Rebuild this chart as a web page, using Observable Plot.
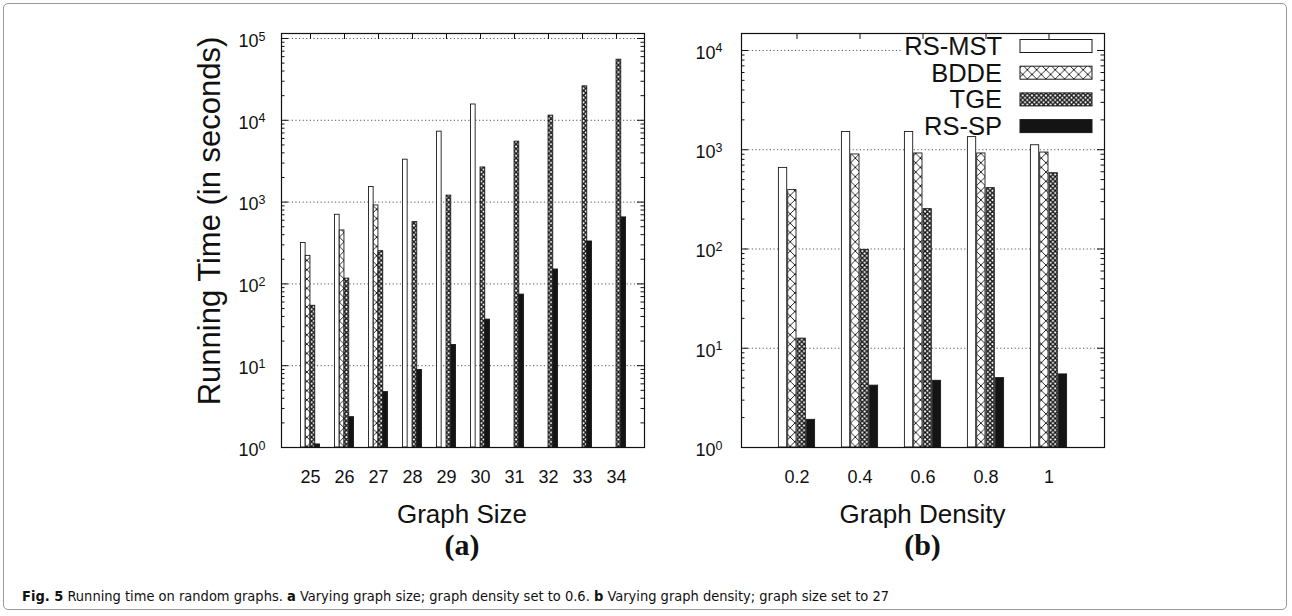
<!DOCTYPE html>
<html><head><meta charset="utf-8">
<script src="https://cdn.jsdelivr.net/npm/d3@7"></script>
<script src="https://cdn.jsdelivr.net/npm/@observablehq/plot@0.6"></script>
<style>
html,body{margin:0;padding:0;background:#fff;}
body{width:1292px;height:616px;position:relative;overflow:hidden;font-family:"Liberation Sans",Arial,sans-serif;}
#border{position:absolute;left:3px;top:3px;width:1284px;height:607px;border:1px solid #9a9a9a;border-radius:5px;box-sizing:border-box;}
#left,#right,#labels{position:absolute;top:0;}
#left{left:0;} #right{left:660px;} #labels{left:0;pointer-events:none;}
#caption{position:absolute;left:22px;top:588px;font-family:"Liberation Sans Narrow","DejaVu Sans Condensed","Roboto",sans-serif;font-stretch:condensed;font-size:14.5px;color:#111;white-space:nowrap;}
#caption b{font-weight:bold;}
</style></head><body>
<div id="border"></div>
<div id="left"></div>
<div id="right"></div>
<svg id="labels" width="1292" height="580"></svg>
<div id="caption"><b>Fig. 5</b> Running time on random graphs. <b>a</b> Varying graph size; graph density set to 0.6. <b>b</b> Varying graph density; graph size set to 27</div>
<script>
// ---- data ----
const seriesNames = ["RS-MST", "BDDE", "TGE", "RS-SP"];

const sizeCats = [25, 26, 27, 28, 29, 30, 31, 32, 33, 34];
const sizeRSMST = [316, 700, 1530, 3300, 7260, 15600, null, null, null, null];
const sizeBDDE  = [220, 450, 910, null, null, null, null, null, null, null];
const sizeTGE   = [54, 116, 251, 569, 1200, 2650, 5480, 11400, 26000, 55000];
const sizeRSSP  = [1.09, 2.35, 4.76, 8.85, 17.9, 36.6, 74, 150, 330, 650];

const densCats = ["0.2", "0.4", "0.6", "0.8", "1"];
const densRSMST = [656, 1510, 1510, 1340, 1110];
const densBDDE  = [392, 896, 917, 917, 937];
const densTGE   = [12.5, 98, 252, 410, 580];
const densRSSP  = [1.9, 4.2, 4.7, 5.0, 5.45];

const yTicksA = [1, 10, 100, 1000, 10000, 100000];
const yTicksB = [1, 10, 100, 1000, 10000];

const xLabelA = "Graph Size", xLabelB = "Graph Density";
const yLabel = "Running Time (in seconds)";

// ---- drawing ----
function addDefs(svg, id) {
  const defs = d3.select(svg).insert("defs", ":first-child");
  const a = 9.3;
  const p1 = defs.append("pattern").attr("id", "bdde" + id).attr("patternUnits", "userSpaceOnUse")
    .attr("width", a).attr("height", a);
  p1.append("rect").attr("width", a).attr("height", a).attr("fill", "white");
  p1.append("path").attr("d", `M0,0L${a},${a}M${a},0L0,${a}`).attr("stroke", "#111").attr("stroke-width", 0.9).attr("fill", "none");
  const b = a / 2;
  const p2 = defs.append("pattern").attr("id", "tge" + id).attr("patternUnits", "userSpaceOnUse")
    .attr("width", b).attr("height", b);
  p2.append("rect").attr("width", b).attr("height", b).attr("fill", "white");
  p2.append("path").attr("d", `M0,0L${b},${b}M${b},0L0,${b}`).attr("stroke", "#111").attr("stroke-width", 1.35).attr("fill", "none");
}

function panel({cats, vals, yTicks, yMax, width, mL, mR, pad, barW, id, tickPad}) {
  const height = 495, mT = 33, mB = 48;
  const fw = width - mL - mR, fh = height - mT - mB;
  const bw = fw / (cats.length + 2 * pad);
  const fills = ["white", `url(#bdde${id})`, `url(#tge${id})`, "#141414"];
  const grid = yTicks.filter(d => d > 1);
  const minors = [];
  yTicks.forEach(k => { for (let m = 2; m <= 9; m++) if (m * k < yMax) minors.push(m * k); });
  const barMarks = vals.map((arr, s) => {
    const rows = cats.map((c, i) => ({cat: c, v: arr[i]})).filter(r => r.v != null);
    const insetLeft = (bw - 4 * barW) / 2 + s * barW;
    return Plot.barY(rows, {x: "cat", y1: 1, y2: "v", fill: fills[s], stroke: "#1a1a1a", strokeWidth: 0.9,
      insetLeft, insetRight: bw - insetLeft - barW});
  });
  const svg = Plot.plot({
    width, height, marginLeft: mL, marginRight: mR, marginTop: mT, marginBottom: mB,
    style: {fontFamily: "'Liberation Sans', Arial, sans-serif", fontSize: "18px", color: "#111", background: "transparent"},
    x: {type: "band", domain: cats, paddingInner: 0, paddingOuter: pad},
    y: {type: "log", domain: [1, yMax]},
    marks: [
      Plot.ruleY(grid, {stroke: "#444", strokeDasharray: "1.2,2.4", strokeWidth: 0.9}),
      ...barMarks,
      Plot.tickY(yTicks, {y: d => d, insetRight: fw - 7, stroke: "#111"}),
      Plot.tickY(yTicks, {y: d => d, insetLeft: fw - 7, stroke: "#111"}),
      Plot.tickY(minors, {y: d => d, insetRight: fw - 3.5, stroke: "#111"}),
      Plot.tickY(minors, {y: d => d, insetLeft: fw - 3.5, stroke: "#111"}),
      Plot.tickX(cats, {x: d => d, insetBottom: fh - 6, stroke: "#111"}),
      Plot.frame({stroke: "#111", strokeWidth: 1.2}),
      Plot.axisX({tickSize: 0, tickPadding: 23, label: null}),
      Plot.axisY(yTicks, {tickSize: 0, tickPadding: tickPad, dy: 2.5, label: null,
        tickFormat: d => String(Math.round(Math.log10(d)))})
    ]
  });
  addDefs(svg, id);
  d3.select(svg).selectAll('g[aria-label="y-axis tick label"] text').each(function () {
    const e = this.textContent;
    const t = d3.select(this);
    t.text(null);
    t.append("tspan").text("10");
    t.append("tspan").attr("dy", "-0.5em").attr("font-size", "12.5px").text(e);
  });
  return {svg, fills};
}

const A = panel({cats: sizeCats, vals: [sizeRSMST, sizeBDDE, sizeTGE, sizeRSSP], yTicks: yTicksA,
  yMax: Math.pow(10, 5.061), width: 660, mL: 281, mR: 16, pad: 0.32, barW: 4.8, id: "A", tickPad: 16});
document.getElementById("left").appendChild(A.svg);

const B = panel({cats: densCats, vals: [densRSMST, densBDDE, densTGE, densRSSP], yTicks: yTicksB,
  yMax: Math.pow(10, 4.171), width: 460, mL: 81, mR: 16, pad: 0.336, barW: 9.3, id: "B", tickPad: 19});
document.getElementById("right").appendChild(B.svg);

// legend inside right panel
{
  const s = d3.select(B.svg);
  const lg = s.insert("g", 'g[aria-label="tick"]');
  lg.append("rect").attr("x", 243).attr("y", 40).attr("width", 194).attr("height", 20).attr("fill", "white");
  seriesNames.forEach((name, i) => {
    const cy = 46 + 26.7 * i;
    lg.append("text").attr("x", 342).attr("y", cy + 9).attr("text-anchor", "end")
      .attr("font-size", "25.5px").attr("fill", "#111").text(name);
    lg.append("rect").attr("x", 360).attr("y", cy - 6.5).attr("width", 72).attr("height", 13)
      .attr("fill", B.fills[i]).attr("stroke", "#1a1a1a").attr("stroke-width", 1);
  });
}

// axis titles
{
  const L = d3.select("#labels");
  L.append("text").attr("transform", "translate(220,221) rotate(-90)").attr("text-anchor", "middle")
    .attr("font-family", "'Liberation Sans', Arial, sans-serif").attr("font-size", "31px").attr("fill", "#111").text(yLabel);
  [[462, xLabelA, "(a)"], [922.5, xLabelB, "(b)"]].forEach(([x, t, p]) => {
    L.append("text").attr("x", x).attr("y", 523).attr("text-anchor", "middle")
      .attr("font-family", "'Liberation Sans', Arial, sans-serif").attr("font-size", "26px").attr("fill", "#111").text(t);
    L.append("text").attr("x", x).attr("y", 555).attr("text-anchor", "middle")
      .attr("font-family", "'Liberation Serif', 'Times New Roman', serif").attr("font-weight", "bold")
      .attr("font-size", "30px").attr("fill", "#111").text(p);
  });
}
</script>
</body></html>
